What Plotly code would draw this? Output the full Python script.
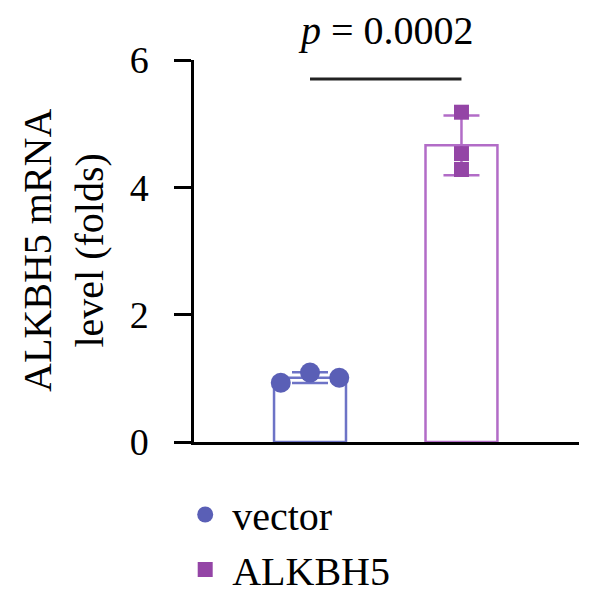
import plotly.graph_objects as go

groups = ["vector", "ALKBH5"]
group_pos = [0, 1]
bar_means = [1.01, 4.66]
bar_sds = [0.085, 0.47]

vector_x_offsets = [-0.193, 0.0, 0.193]
vector_values = [0.93, 1.09, 1.01]
alk_x_offsets = [0.0, 0.0, 0.0]
alk_values = [5.18, 4.53, 4.28]

y_ticks = [0, 2, 4, 6]
y_title = "ALKBH5 mRNA<br>level (folds)"
p_label = "<i>p</i> = 0.0002"
sig_y = 5.70

bar_line_colors = ["#6d73c6", "#b26cc7"]
marker_colors = ["#5a5fb6", "#9445a6"]
FONT = "Liberation Serif"

fig = go.Figure()

fig.add_trace(go.Bar(
    x=group_pos, y=bar_means, width=0.475,
    marker=dict(color="white", line=dict(color=bar_line_colors, width=2.5)),
    showlegend=False, hoverinfo="skip",
))

for i, (xo, vals, sym, size) in enumerate([
    (vector_x_offsets, vector_values, "circle", 20),
    (alk_x_offsets, alk_values, "square", 15),
]):
    # error bar
    fig.add_trace(go.Scatter(
        x=[group_pos[i]], y=[bar_means[i]], mode="markers",
        marker=dict(size=1, color="rgba(0,0,0,0)"),
        error_y=dict(type="data", array=[bar_sds[i]], visible=True,
                     color=bar_line_colors[i], thickness=2.5, width=18),
        showlegend=False, hoverinfo="skip",
    ))
    fig.add_trace(go.Scatter(
        x=[group_pos[i] + o for o in xo], y=vals, mode="markers",
        name=groups[i],
        marker=dict(symbol=sym, size=size, color=marker_colors[i],
                    line=dict(width=0)),
    ))

fig.add_shape(type="line", xref="x", yref="y", x0=group_pos[0], x1=group_pos[1],
              y0=sig_y, y1=sig_y, line=dict(color="#222222", width=3))
fig.add_annotation(x=0.5, y=1 + 29 / 382, xref="x", yref="paper", text=p_label,
                   showarrow=False, font=dict(family=FONT, size=40, color="black"),
                   yanchor="middle")
fig.add_annotation(x=-131 / 385, y=0.5, xref="paper", yref="paper", text=y_title,
                   textangle=-90, showarrow=False, xanchor="center", yanchor="middle",
                   font=dict(family=FONT, size=40, color="black"))

fig.update_layout(
    width=600, height=600,
    margin=dict(l=194, r=21, t=60, b=158, autoexpand=False),
    plot_bgcolor="white", paper_bgcolor="white",
    font=dict(family=FONT, size=38, color="black"),
    showlegend=True,
    legend=dict(xref="container", yref="container", x=0.297, y=1 - 482 / 600,
                xanchor="left", yanchor="top", itemwidth=44,
                font=dict(family=FONT, size=40, color="black"),
                itemsizing="trace", tracegroupgap=0, bgcolor="rgba(0,0,0,0)"),
)

fig.update_xaxes(range=[-0.766, 1.776], showgrid=False, zeroline=False,
                 showline=True, linecolor="black", linewidth=2.5,
                 showticklabels=False, ticks="")
fig.update_yaxes(range=[0, 6], tickvals=y_ticks, showgrid=False, zeroline=False,
                 showline=True, linecolor="black", linewidth=2.5,
                 ticks="outside", ticklen=17, tickwidth=2.5, tickcolor="black",
                 ticklabelstandoff=18,
                 tickfont=dict(family=FONT, size=38, color="black"))

fig.write_html("out.html")
